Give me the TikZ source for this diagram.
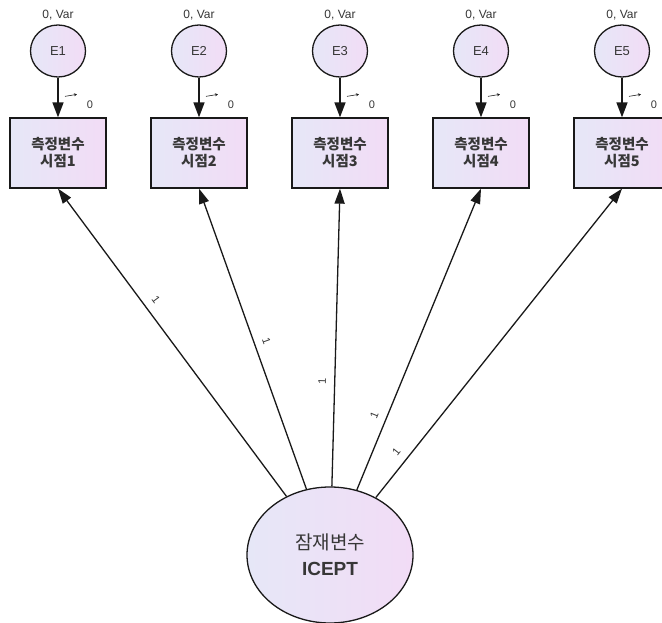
\documentclass[tikz,border=0pt]{standalone}
\usepackage{fontspec}
\setmainfont{Liberation Sans}
\newfontfamily\kr{Noto Sans CJK KR}
\usetikzlibrary{arrows.meta,shapes.geometric,calc}
\definecolor{fillA}{RGB}{230,231,247}
\definecolor{fillB}{RGB}{242,220,246}
\definecolor{ink}{RGB}{25,25,25}
\definecolor{txt}{RGB}{55,55,55}
\begin{document}
\begin{tikzpicture}[x=1pt,y=-1pt,
  errnode/.style={ellipse, draw=ink, line width=1.3pt, minimum width=55pt, minimum height=52pt,
    inner sep=0pt, left color=fillA, right color=fillB, text=txt, font=\fontsize{13}{13}\selectfont},
  obsbox/.style={rectangle, draw=ink, line width=1.3pt, minimum width=96pt, minimum height=70pt,
    inner sep=0pt, left color=fillA, right color=fillB, align=center, text=txt,
    font=\kr\bfseries\fontsize{14.5}{17}\selectfont},
  latnode/.style={ellipse, draw=ink, line width=1.3pt, minimum width=166pt, minimum height=136pt,
    inner sep=0pt, left color=fillA, right color=fillB, align=center, text=txt,
    font=\fontsize{19}{26}\selectfont},
  varlab/.style={text=txt, font=\fontsize{12}{12}\selectfont, inner sep=0pt},
  zerolab/.style={text=txt, font=\fontsize{11}{11}\selectfont, inner sep=0pt},
  onelab/.style={text=txt, font=\fontsize{11}{11}\selectfont, inner sep=0pt, sloped, above=8pt},
  toparrow/.style={draw=ink, line width=1.6pt, -{Triangle[length=15pt,width=11pt]}},
  latarrow/.style={draw=ink, line width=1.3pt, -{Triangle[length=15pt,width=10pt]}},
  smallarrow/.style={draw=ink, line width=0.6pt, -{Stealth[length=3pt,width=3pt]}}
]
\useasboundingbox (0,0) rectangle (662,623);
\fill[white] (0,0) rectangle (662,623);
\foreach \k/\x in {1/58,2/199,3/340,4/481,5/622} {
  \node[errnode] (E\k) at (\x,51) {E\k};
  \node[varlab] (v\k) at (\x,15) {0, Var};
  \node[obsbox] (b\k) at (\x,153) {측정변수\\시점\k};
  \draw[toparrow] (E\k) -- (b\k);
  \coordinate (s\k) at ($(b\k.north)+(7,-21)$);
  \coordinate (t\k) at ($(b\k.north)+(19,-23)$);
  \draw[smallarrow] (s\k) -- (t\k);
  \node[zerolab] (z\k) at ($(b\k.north)+(32,-13)$) {0};
}
\node[latnode] (L) at (330,555) {{\kr 잠재변수}\\{\bfseries ICEPT}};
\foreach \k/\p in {1/0.615,2/0.48,3/0.35,4/0.233,5/0.123} {
  \draw[latarrow] (L) -- (b\k.south) node[onelab,pos=\p] {1};
}
\end{tikzpicture}
\end{document}
